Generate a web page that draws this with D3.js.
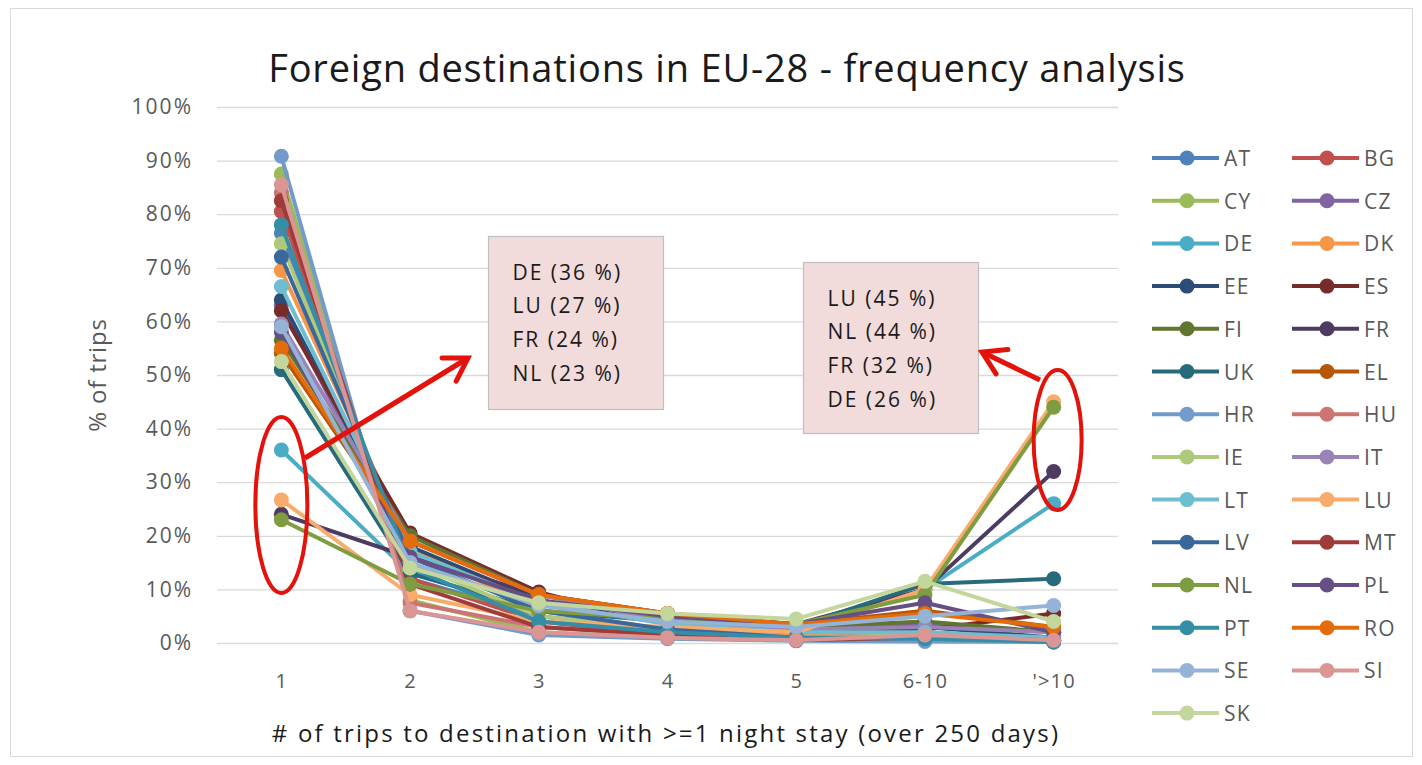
<!DOCTYPE html>
<html>
<head>
<meta charset="utf-8">
<script src="https://cdn.jsdelivr.net/npm/d3@7"></script>
<style>
  html, body { margin: 0; padding: 0; background: #fff; }
  svg { display: block; }
  text { font-family: "Open Sans", Lato, sans-serif; }
</style>
</head>
<body>
<svg id="chart" width="1422" height="765"></svg>
<script>
// Number of trips per destination (x categories)
const categories = ["1", "2", "3", "4", "5", "6-10", "'>10"];
const yTicks = [0, 0.1, 0.2, 0.3, 0.4, 0.5, 0.6, 0.7, 0.8, 0.9, 1.0];

// Member states, in legend order
const countries = ["AT","BG","CY","CZ","DE","DK","EE","ES","FI","FR","UK","EL","HR","HU",
                   "IE","IT","LT","LU","LV","MT","NL","PL","PT","RO","SE","SI","SK"];
const colors = ["#4F81BD","#C0504D","#9BBB59","#8064A2","#4BACC6","#F79646",
                "#2C4D75","#772C2A","#5F7530","#4D3B62","#276A7C","#B65708",
                "#729ACA","#CD7371","#AFC97A","#9983B5","#6FBDD1","#F9AB6B",
                "#3A679C","#9F3B38","#7E9D40","#664F83","#358EA6","#E46C0A",
                "#95B3D7","#D99694","#C3D69B"];

// Share of trips (%) per category, one array per country
const AT = [76.5, 12, 5, 2.5, 1.5, 2, 0.5];
const BG = [80.5, 12, 4, 1.5, 0.8, 1, 0.2];
const CY = [87.5, 8, 2, 1, 0.5, 0.8, 0.2];
const CZ = [63, 17, 8, 4, 2.5, 3.5, 2];
const DE = [36, 13, 6, 4.5, 3, 10, 26];
const DK = [69.5, 18, 6, 2.5, 1.5, 1.5, 1];
const EE = [64, 18, 8, 4, 2, 3, 1];
const ES = [62, 20.5, 9.5, 3.5, 2, 2.5, 5.5];
const FI = [56.5, 20, 9, 5, 3, 4, 2];
const FR = [24, 16, 9, 5.5, 3.5, 10, 32];
const UK = [51, 13, 6, 4, 3, 11, 12];
const EL = [54, 19, 9, 5.5, 3.5, 6, 3];
const HR = [90.8, 6, 1.5, 0.8, 0.4, 0.3, 0.2];
const HU = [84, 7.5, 3, 1.5, 0.8, 2, 0.7];
const IE = [74.5, 15, 5, 2.5, 1, 1.5, 0.5];
const IT = [59.5, 19, 9, 4, 2.5, 3, 2];
const LT = [66.5, 17, 7.5, 3.5, 2, 2, 1];
const LU = [26.7, 9, 4, 3, 2, 10, 45];
const LV = [72, 16, 6, 2.5, 1, 1, 0.5];
const MT = [82.5, 11, 3, 1.5, 0.5, 1, 0.5];
const NL = [23, 11, 6, 4.5, 3.5, 9, 44];
const PL = [58, 16, 8, 5, 3.5, 7.5, 2];
const PT = [78, 14, 4, 2, 1, 0.8, 0.2];
const RO = [55, 19, 9, 5.5, 3.5, 5.5, 3];
const SE = [59, 15, 7, 4, 3, 5, 7];
const SI = [85.5, 6, 2, 1, 0.5, 1.5, 0.5];
const SK = [52.5, 14, 7.5, 5.5, 4.5, 11.5, 4];

const seriesValues = [AT,BG,CY,CZ,DE,DK,EE,ES,FI,FR,UK,EL,HR,HU,IE,IT,LT,LU,LV,MT,NL,PL,PT,RO,SE,SI,SK];

// Call-out boxes listing the largest shares at each end
const leftNotes  = ["DE (36 %)", "LU (27 %)", "FR (24 %)", "NL (23 %)"];
const rightNotes = ["LU (45 %)", "NL (44 %)", "FR (32 %)", "DE (26 %)"];

const series = countries.map((c, i) => ({
  name: c,
  color: colors[i],
  values: seriesValues[i].map((v, j) => ({ cat: categories[j], v: v / 100 }))
}));

const svg = d3.select("#chart");

// chart frame
svg.append("rect")
  .attr("x", 10.5).attr("y", 8.5).attr("width", 1402).attr("height", 748)
  .attr("fill", "#fff").attr("stroke", "#D9D9D9").attr("stroke-width", 1);

const plot = { left: 217, right: 1118, top: 107, bottom: 643 };

const x = d3.scalePoint().domain(categories).range([plot.left, plot.right]).padding(0.5);
const y = d3.scaleLinear().domain([0, 1]).range([plot.bottom, plot.top]);

// title
svg.append("text")
  .attr("x", 727).attr("y", 82)
  .attr("text-anchor", "middle")
  .attr("font-size", 38).attr("letter-spacing", 0.8).attr("fill", "#1a1a1a")
  .text("Foreign destinations in EU-28 - frequency analysis");

// gridlines + y axis labels
const yAxis = d3.axisLeft(y).tickValues(yTicks)
  .tickFormat(d3.format(".0%"))
  .tickSize(-(plot.right - plot.left)).tickPadding(24);
const gy = svg.append("g").attr("transform", `translate(${plot.left},0)`).call(yAxis);
gy.select(".domain").remove();
gy.selectAll(".tick line").attr("stroke", "#D9D9D9").attr("stroke-width", 1.3);
gy.selectAll(".tick text").attr("font-size", 21).attr("letter-spacing", 2).attr("fill", "#595959")
  .attr("font-family", "'Open Sans', Lato, sans-serif");

// x axis labels
const xAxis = d3.axisBottom(x).tickSize(0).tickPadding(31);
const gx = svg.append("g").attr("transform", `translate(0,${plot.bottom})`).call(xAxis);
gx.select(".domain").remove();
gx.selectAll(".tick text").attr("font-size", 20).attr("letter-spacing", 1.2).attr("fill", "#595959")
  .attr("font-family", "'Open Sans', Lato, sans-serif");

// axis titles
svg.append("text")
  .attr("transform", "translate(106,375) rotate(-90)")
  .attr("text-anchor", "middle").attr("font-size", 24).attr("letter-spacing", 0.8).attr("fill", "#595959")
  .text("% of trips");
svg.append("text")
  .attr("x", 666).attr("y", 742)
  .attr("text-anchor", "middle").attr("font-size", 24).attr("letter-spacing", 2.2).attr("fill", "#1a1a1a")
  .text("# of trips to destination with >=1 night stay (over 250 days)");

// series lines and markers
const line = d3.line().x(d => x(d.cat)).y(d => y(d.v));
const gs = svg.append("g").selectAll("g").data(series).join("g");
gs.append("path")
  .attr("d", d => line(d.values))
  .attr("fill", "none").attr("stroke", d => d.color)
  .attr("stroke-width", 4).attr("stroke-linejoin", "round").attr("stroke-linecap", "round");
gs.selectAll("circle").data(d => d.values.map(v => ({ ...v, color: d.color }))).join("circle")
  .attr("cx", d => x(d.cat)).attr("cy", d => y(d.v)).attr("r", 7.5)
  .attr("fill", d => d.color);

// legend
const legend = svg.append("g");
const rowH = 42.7;
series.forEach((s, i) => {
  const col = i % 2, row = Math.floor(i / 2);
  const lx = col === 0 ? 1152 : 1292;
  const ly = 158 + row * rowH;
  const g = legend.append("g").attr("transform", `translate(${lx},${ly})`);
  g.append("line").attr("x1", 0).attr("x2", 67).attr("y1", 0).attr("y2", 0)
    .attr("stroke", s.color).attr("stroke-width", 4);
  g.append("circle").attr("cx", 35).attr("cy", 0).attr("r", 7.5).attr("fill", s.color);
  g.append("text").attr("x", 72).attr("y", 8)
    .attr("font-size", 21).attr("letter-spacing", 1.2).attr("fill", "#595959").text(s.name);
});

// annotation boxes
function noteBox(bx, by, w, h, lines) {
  svg.append("rect").attr("x", bx).attr("y", by).attr("width", w).attr("height", h)
    .attr("fill", "#F2DCDB").attr("stroke", "#BFBFBF").attr("stroke-width", 1.2);
  lines.forEach((t, i) => {
    svg.append("text").attr("x", bx + 24).attr("y", by + 43 + i * 33.8)
      .attr("font-size", 21).attr("letter-spacing", 2).attr("fill", "#1a1a1a").text(t);
  });
}
noteBox(488.5, 236.5, 175, 173, leftNotes);
noteBox(803.5, 262.5, 175, 171, rightNotes);

// red highlight ellipses
const red = "#E3120B";
svg.append("ellipse").attr("cx", x("1")).attr("cy", 505).attr("rx", 26).attr("ry", 88)
  .attr("fill", "none").attr("stroke", red).attr("stroke-width", 4);
svg.append("ellipse").attr("cx", x("'>10") + 4).attr("cy", 440).attr("rx", 24).attr("ry", 70)
  .attr("fill", "none").attr("stroke", red).attr("stroke-width", 4);

// arrows
function arrow(x1, y1, x2, y2) {
  svg.append("line").attr("x1", x1).attr("y1", y1).attr("x2", x2).attr("y2", y2)
    .attr("stroke", red).attr("stroke-width", 5);
  const a = Math.atan2(y2 - y1, x2 - x1), L = 26, spread = 0.55;
  const p1 = [x2 - L * Math.cos(a - spread), y2 - L * Math.sin(a - spread)];
  const p2 = [x2 - L * Math.cos(a + spread), y2 - L * Math.sin(a + spread)];
  svg.append("path").attr("d", `M${p1[0]},${p1[1]}L${x2},${y2}L${p2[0]},${p2[1]}`)
    .attr("fill", "none").attr("stroke", red).attr("stroke-width", 5)
    .attr("stroke-linejoin", "miter").attr("stroke-linecap", "round");
}
arrow(305, 458, 468, 358);
arrow(1040, 380, 982, 352);
</script>
</body>
</html>
